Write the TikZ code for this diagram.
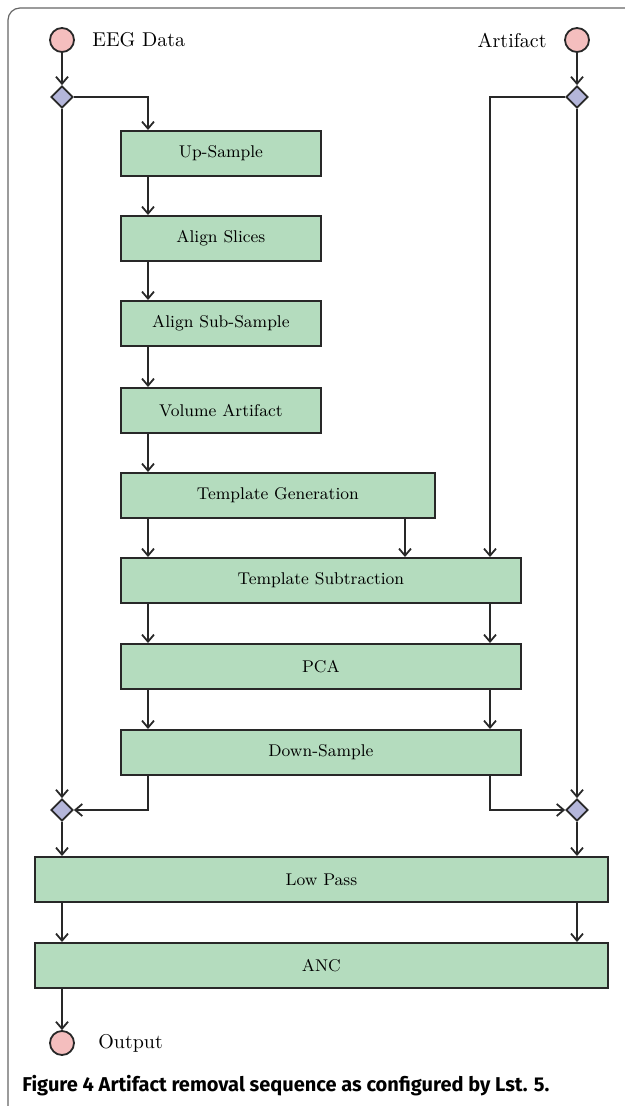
\documentclass[tikz,border=0pt]{standalone}
\usepackage{fontspec}
\newfontfamily\capfont{Fira Sans}
\usetikzlibrary{shapes.geometric,arrows.meta}

\definecolor{stagegreen}{RGB}{180,220,190}
\definecolor{termpink}{RGB}{244,190,190}
\definecolor{junctionblue}{RGB}{180,182,218}
\definecolor{linegray}{RGB}{40,40,40}

\begin{document}
\begin{tikzpicture}[x=0.5pt,y=-0.5pt,
    stage/.style={draw=linegray, fill=stagegreen, line width=0.9pt, minimum height=22.5pt,
      inner sep=0pt, anchor=north west, font=\fontsize{8.5}{10}\selectfont},
    terminal/.style={circle, draw=linegray, fill=termpink, line width=0.9pt,
      minimum size=12pt, inner sep=0pt},
    junction/.style={diamond, draw=linegray, fill=junctionblue, line width=0.9pt,
      minimum size=11pt, inner sep=0pt},
    flow/.style={line width=0.9pt, draw=linegray,
      -{Straight Barb[length=3.5pt,width=6pt]}}]
    \useasboundingbox (0,0) rectangle (625,1106);
    % frame
    \draw[black!60, line width=0.6pt, rounded corners=6pt] (8,1106) -- (8,8) -- (625,8);
    % columns used by the connectors
    \coordinate (colL) at (62,0);
    \coordinate (colA) at (148,0);
    \coordinate (colB) at (405,0);
    \coordinate (colC) at (490,0);
    \coordinate (colR) at (577,0);
    % inputs and output
    \node[terminal] (eeg) at (62,40) {};
    \node[anchor=west, inner sep=0pt] (eeglabel) at (92,40) {EEG Data};
    \node[terminal] (art) at (577,40) {};
    \node[anchor=east, inner sep=0pt] (artlabel) at (547,40) {Artifact};
    \node[terminal] (out) at (62,1043) {};
    \node[anchor=west, inner sep=0pt] (outlabel) at (98,1043) {Output};
    % junctions
    \node[junction] (splitL) at (62,97) {};
    \node[junction] (splitR) at (577,97) {};
    \node[junction] (mergeL) at (62,810) {};
    \node[junction] (mergeR) at (577,810) {};
    % stages
    \node[stage, minimum width=100pt] (upsample) at (120,130) {Up-Sample};
    \node[stage, minimum width=100pt] (slices) at (120,215) {Align Slices};
    \node[stage, minimum width=100pt] (subsample) at (120,300) {Align Sub-Sample};
    \node[stage, minimum width=100pt] (volart) at (120,387) {Volume Artifact};
    \node[stage, minimum width=157pt] (tgen) at (120,472) {Template Generation};
    \node[stage, minimum width=200pt] (tsub) at (120,557) {Template Subtraction};
    \node[stage, minimum width=200pt] (pca) at (120,643) {PCA};
    \node[stage, minimum width=200pt] (down) at (120,729) {Down-Sample};
    \node[stage, minimum width=286.5pt] (lowpass) at (34,856) {Low Pass};
    \node[stage, minimum width=286.5pt] (anc) at (34,942) {ANC};
    % connectors
    \draw[flow] (eeg) -- (splitL);
    \draw[flow] (art) -- (splitR);
    \draw[flow] (splitL.east) -| (colA |- upsample.north);
    \draw[flow] (splitR.west) -| (colC |- tsub.north);
    \foreach \a/\b in {upsample/slices, slices/subsample, subsample/volart,
      volart/tgen, tgen/tsub, tsub/pca, pca/down}
    \draw[flow] (colA |- \a.south) -- (colA |- \b.north);
    \draw[flow] (colB |- tgen.south) -- (colB |- tsub.north);
    \foreach \a/\b in {tsub/pca, pca/down}
    \draw[flow] (colC |- \a.south) -- (colC |- \b.north);
    \draw[flow] (colA |- down.south) |- (mergeL.east);
    \draw[flow] (colC |- down.south) |- (mergeR.west);
    \draw[flow] (splitL) -- (mergeL);
    \draw[flow] (splitR) -- (mergeR);
    \draw[flow] (mergeL) -- (colL |- lowpass.north);
    \draw[flow] (mergeR) -- (colR |- lowpass.north);
    \draw[flow] (colL |- lowpass.south) -- (colL |- anc.north);
    \draw[flow] (colR |- lowpass.south) -- (colR |- anc.north);
    \draw[flow] (colL |- anc.south) -- (out);
    % caption
    \node[anchor=west, inner sep=0pt, font=\capfont\bfseries\fontsize{10}{12}\selectfont]
      (caption) at (22,1086) {Figure 4 Artifact removal sequence as configured by Lst. 5.};
\end{tikzpicture}
\end{document}
